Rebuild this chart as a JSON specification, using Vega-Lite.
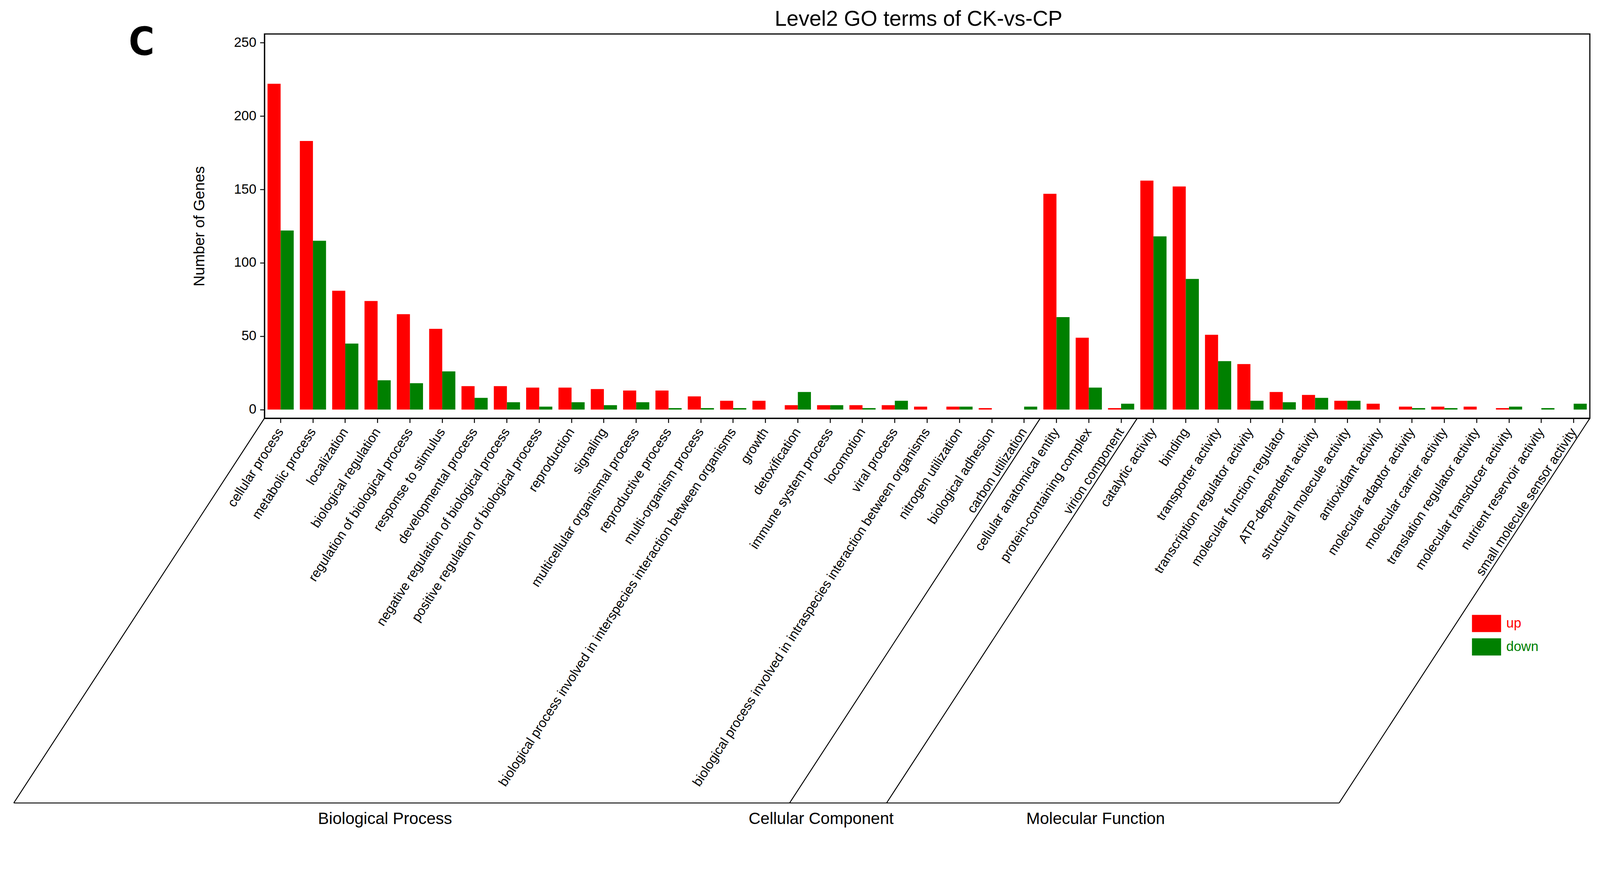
{
  "$schema": "https://vega.github.io/schema/vega-lite/v6.json",
  "autosize": {"type": "none"},
  "padding": {"left": 677, "top": 87, "right": 29, "bottom": 1066},
  "width": 3393,
  "height": 984,
  "title": {
    "text": "Level2 GO terms of CK-vs-CP",
    "fontSize": 55,
    "font": "Liberation Sans",
    "fontWeight": "normal",
    "color": "black",
    "anchor": "middle",
    "frame": "group",
    "offset": 9,
    "dy": 26,
    "dx": -22
  },
  "datasets": {
    "genes": [
      {"term": "cellular process", "regulation": "up", "genes": 222},
      {"term": "cellular process", "regulation": "down", "genes": 122},
      {"term": "metabolic process", "regulation": "up", "genes": 183},
      {"term": "metabolic process", "regulation": "down", "genes": 115},
      {"term": "localization", "regulation": "up", "genes": 81},
      {"term": "localization", "regulation": "down", "genes": 45},
      {"term": "biological regulation", "regulation": "up", "genes": 74},
      {"term": "biological regulation", "regulation": "down", "genes": 20},
      {"term": "regulation of biological process", "regulation": "up", "genes": 65},
      {"term": "regulation of biological process", "regulation": "down", "genes": 18},
      {"term": "response to stimulus", "regulation": "up", "genes": 55},
      {"term": "response to stimulus", "regulation": "down", "genes": 26},
      {"term": "developmental process", "regulation": "up", "genes": 16},
      {"term": "developmental process", "regulation": "down", "genes": 8},
      {"term": "negative regulation of biological process", "regulation": "up", "genes": 16},
      {"term": "negative regulation of biological process", "regulation": "down", "genes": 5},
      {"term": "positive regulation of biological process", "regulation": "up", "genes": 15},
      {"term": "positive regulation of biological process", "regulation": "down", "genes": 2},
      {"term": "reproduction", "regulation": "up", "genes": 15},
      {"term": "reproduction", "regulation": "down", "genes": 5},
      {"term": "signaling", "regulation": "up", "genes": 14},
      {"term": "signaling", "regulation": "down", "genes": 3},
      {"term": "multicellular organismal process", "regulation": "up", "genes": 13},
      {"term": "multicellular organismal process", "regulation": "down", "genes": 5},
      {"term": "reproductive process", "regulation": "up", "genes": 13},
      {"term": "reproductive process", "regulation": "down", "genes": 1},
      {"term": "multi-organism process", "regulation": "up", "genes": 9},
      {"term": "multi-organism process", "regulation": "down", "genes": 1},
      {"term": "biological process involved in interspecies interaction between organisms", "regulation": "up", "genes": 6},
      {"term": "biological process involved in interspecies interaction between organisms", "regulation": "down", "genes": 1},
      {"term": "growth", "regulation": "up", "genes": 6},
      {"term": "growth", "regulation": "down", "genes": 0},
      {"term": "detoxification", "regulation": "up", "genes": 3},
      {"term": "detoxification", "regulation": "down", "genes": 12},
      {"term": "immune system process", "regulation": "up", "genes": 3},
      {"term": "immune system process", "regulation": "down", "genes": 3},
      {"term": "locomotion", "regulation": "up", "genes": 3},
      {"term": "locomotion", "regulation": "down", "genes": 1},
      {"term": "viral process", "regulation": "up", "genes": 3},
      {"term": "viral process", "regulation": "down", "genes": 6},
      {"term": "biological process involved in intraspecies interaction between organisms", "regulation": "up", "genes": 2},
      {"term": "biological process involved in intraspecies interaction between organisms", "regulation": "down", "genes": 0},
      {"term": "nitrogen utilization", "regulation": "up", "genes": 2},
      {"term": "nitrogen utilization", "regulation": "down", "genes": 2},
      {"term": "biological adhesion", "regulation": "up", "genes": 1},
      {"term": "biological adhesion", "regulation": "down", "genes": 0},
      {"term": "carbon utilization", "regulation": "up", "genes": 0},
      {"term": "carbon utilization", "regulation": "down", "genes": 2},
      {"term": "cellular anatomical entity", "regulation": "up", "genes": 147},
      {"term": "cellular anatomical entity", "regulation": "down", "genes": 63},
      {"term": "protein-containing complex", "regulation": "up", "genes": 49},
      {"term": "protein-containing complex", "regulation": "down", "genes": 15},
      {"term": "virion component", "regulation": "up", "genes": 1},
      {"term": "virion component", "regulation": "down", "genes": 4},
      {"term": "catalytic activity", "regulation": "up", "genes": 156},
      {"term": "catalytic activity", "regulation": "down", "genes": 118},
      {"term": "binding", "regulation": "up", "genes": 152},
      {"term": "binding", "regulation": "down", "genes": 89},
      {"term": "transporter activity", "regulation": "up", "genes": 51},
      {"term": "transporter activity", "regulation": "down", "genes": 33},
      {"term": "transcription regulator activity", "regulation": "up", "genes": 31},
      {"term": "transcription regulator activity", "regulation": "down", "genes": 6},
      {"term": "molecular function regulator", "regulation": "up", "genes": 12},
      {"term": "molecular function regulator", "regulation": "down", "genes": 5},
      {"term": "ATP-dependent activity", "regulation": "up", "genes": 10},
      {"term": "ATP-dependent activity", "regulation": "down", "genes": 8},
      {"term": "structural molecule activity", "regulation": "up", "genes": 6},
      {"term": "structural molecule activity", "regulation": "down", "genes": 6},
      {"term": "antioxidant activity", "regulation": "up", "genes": 4},
      {"term": "antioxidant activity", "regulation": "down", "genes": 0},
      {"term": "molecular adaptor activity", "regulation": "up", "genes": 2},
      {"term": "molecular adaptor activity", "regulation": "down", "genes": 1},
      {"term": "molecular carrier activity", "regulation": "up", "genes": 2},
      {"term": "molecular carrier activity", "regulation": "down", "genes": 1},
      {"term": "translation regulator activity", "regulation": "up", "genes": 2},
      {"term": "translation regulator activity", "regulation": "down", "genes": 0},
      {"term": "molecular transducer activity", "regulation": "up", "genes": 1},
      {"term": "molecular transducer activity", "regulation": "down", "genes": 2},
      {"term": "nutrient reservoir activity", "regulation": "up", "genes": 0},
      {"term": "nutrient reservoir activity", "regulation": "down", "genes": 1},
      {"term": "small molecule sensor activity", "regulation": "up", "genes": 0},
      {"term": "small molecule sensor activity", "regulation": "down", "genes": 4}
    ],
    "frame": [
      {"x": 0, "y": -5.9, "x_end": -7.755, "y_end": -268},
      {"x": -7.755, "y": -268, "x_end": 33.245, "y_end": -268},
      {"x": 41, "y": -5.9, "x_end": 33.245, "y_end": -268},
      {"x": 24, "y": -5.9, "x_end": 16.245, "y_end": -268},
      {"x": 27, "y": -5.9, "x_end": 19.245, "y_end": -268}
    ],
    "groups": [
      {"ontology": "Biological Process", "x": 3.73, "y": -268},
      {"ontology": "Cellular Component", "x": 17.22, "y": -268},
      {"ontology": "Molecular Function", "x": 25.71, "y": -268}
    ],
    "panel": [
      {"tag": "C", "x": -3.8, "y": 241.4}
    ]
  },
  "resolve": {"scale": {"x": "independent"}},
  "layer": [
    {
      "data": {"name": "genes"},
      "mark": {"type": "bar"},
      "encoding": {
        "x": {
          "field": "term",
          "type": "nominal",
          "sort": null,
          "scale": {"paddingInner": 0.19, "paddingOuter": 0.095},
          "axis": {
            "title": null,
            "labelAngle": -57,
            "labelAlign": "right",
            "labelBaseline": "middle",
            "labelFontSize": 33.5,
            "labelPadding": 17,
            "labelLimit": 3000,
            "labelOverlap": false,
            "tickSize": 11.5
          }
        },
        "xOffset": {
          "field": "regulation",
          "type": "nominal",
          "sort": ["up", "down"],
          "scale": {"paddingInner": 0, "paddingOuter": 0}
        },
        "y": {
          "field": "genes",
          "type": "quantitative",
          "scale": {"domain": [-5.9, 255.9], "nice": false},
          "axis": {
            "title": "Number of Genes",
            "values": [0, 50, 100, 150, 200, 250],
            "grid": false,
            "tickSize": 11.5,
            "labelFontSize": 34.5,
            "labelPadding": 9.5,
            "titleFontSize": 39,
            "titleFontWeight": "normal",
            "titleAngle": -90,
            "titleX": -167,
            "titleY": 492,
            "titleAlign": "center",
            "titleBaseline": "middle"
          }
        },
        "color": {
          "field": "regulation",
          "type": "nominal",
          "scale": {"domain": ["up", "down"], "range": ["#FF0000", "#008000"]},
          "legend": {
            "title": null,
            "orient": "none",
            "legendX": 3091,
            "legendY": 1472,
            "padding": 0,
            "symbolType": "M-1,-0.59H1V0.59H-1Z",
            "symbolSize": 5550,
            "symbolStrokeWidth": 0,
            "labelFontSize": 34.5,
            "labelOffset": 13,
            "labelColor": {"expr": "datum.label == 'up' ? '#FF0000' : '#008000'"},
            "rowPadding": -8.5
          }
        }
      }
    },
    {
      "data": {"name": "frame"},
      "mark": {"type": "rule", "color": "black", "strokeWidth": 2.4},
      "encoding": {
        "x": {"field": "x", "type": "quantitative", "scale": {"domain": [0, 41], "nice": false, "zero": false}, "axis": null},
        "x2": {"field": "x_end"},
        "y": {"field": "y", "type": "quantitative", "scale": {"domain": [-5.9, 255.9], "nice": false}},
        "y2": {"field": "y_end"}
      }
    },
    {
      "data": {"name": "groups"},
      "mark": {"type": "text", "fontSize": 42, "align": "center", "baseline": "middle", "dy": 41, "color": "black"},
      "encoding": {
        "x": {"field": "x", "type": "quantitative", "scale": {"domain": [0, 41], "nice": false, "zero": false}, "axis": null},
        "y": {"field": "y", "type": "quantitative", "scale": {"domain": [-5.9, 255.9], "nice": false}},
        "text": {"field": "ontology"}
      }
    },
    {
      "data": {"name": "panel"},
      "mark": {"type": "text", "fontSize": 100, "fontWeight": "bold", "font": "Liberation Sans Narrow, DejaVu Sans Condensed, Liberation Sans", "align": "center", "baseline": "alphabetic", "color": "black"},
      "encoding": {
        "x": {"field": "x", "type": "quantitative", "scale": {"domain": [0, 41], "nice": false, "zero": false}, "axis": null},
        "y": {"field": "y", "type": "quantitative", "scale": {"domain": [-5.9, 255.9], "nice": false}},
        "text": {"field": "tag"}
      }
    }
  ],
  "config": {
    "font": "Liberation Sans",
    "view": {"stroke": "black", "strokeWidth": 2.9},
    "axis": {
      "labelFont": "Liberation Sans",
      "titleFont": "Liberation Sans",
      "labelColor": "black",
      "titleColor": "black",
      "domainColor": "black",
      "domainWidth": 2.9,
      "tickColor": "black",
      "tickWidth": 2.4
    },
    "legend": {"labelFont": "Liberation Sans"},
    "text": {"font": "Liberation Sans"}
  }
}
